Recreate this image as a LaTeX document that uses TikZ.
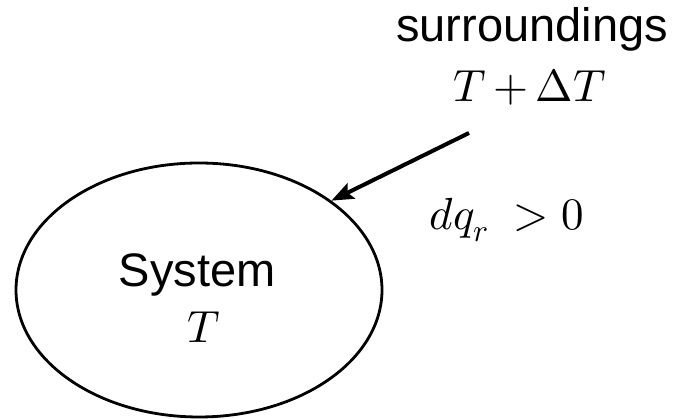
\documentclass[tikz,border=0pt]{standalone}
\usepackage{fontspec}
\usepackage{unicode-math}
\setmainfont{Liberation Sans}
\setmathfont{Latin Modern Math}
\usetikzlibrary{shapes.geometric,arrows.meta}
\begin{document}
\begin{tikzpicture}[x=1pt,y=1pt,
  lbl/.style={inner sep=0pt,font=\fontsize{47}{56}\selectfont},
  mlbl/.style={inner sep=0pt,font=\fontsize{45}{54}\selectfont},
  sysellipse/.style={ellipse,draw,line width=2.8pt,minimum width=366pt,minimum height=254pt,inner sep=0pt},
  heatarrow/.style={line width=4pt,-{Stealth[length=22pt,width=17pt,inset=4pt]}}]
\useasboundingbox (0,0) rectangle (675,419);
\node[sysellipse] (sys) at (199,129) {};
\node[lbl,anchor=base] (systxt) at (197,132) {System};
\node[mlbl,anchor=base] (syst) at (204,76) {$T$};
\node[lbl,anchor=base] (surr) at (532,377) {surroundings};
\node[mlbl,anchor=base] (surrt) at (530,317) {$T\mkern-1.2mu+\mkern-1.2mu\Delta T$};
\node[mlbl,anchor=base east] (dq) at (584,189) {$dq_r\ >0$};
\coordinate (start) at (469,286);
\draw[heatarrow] (start) -- (sys.{atan2(219-129,328-199)});
\end{tikzpicture}
\end{document}
